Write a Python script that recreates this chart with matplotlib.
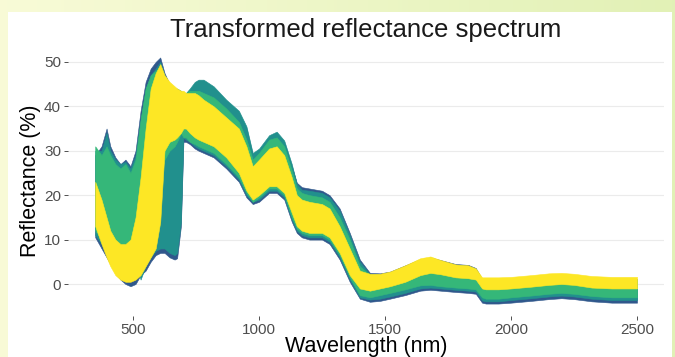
import numpy as np
import matplotlib.pyplot as plt
from matplotlib.patches import Rectangle

plt.rcParams['font.family'] = ['Liberation Sans', 'DejaVu Sans']

# wavelength grid (nm)
wavelength = [350, 375, 395, 410, 430, 450, 470, 490, 510, 530, 550, 570, 590, 608,
              625, 645, 665, 675, 690, 700, 710, 725, 745, 760, 780, 820, 870, 920,
              950, 975, 1000, 1040, 1070, 1100, 1130, 1150, 1170, 1200, 1250, 1280,
              1320, 1360, 1400, 1440, 1480, 1520, 1580, 1640, 1680, 1720, 1780, 1830,
              1860, 1885, 1900, 1950, 2000, 2080, 2150, 2200, 2250, 2320, 2400, 2460,
              2500]

# reflectance envelopes (%) of each group of spectra: lower / upper
blue_lo = [10.5, 8, 6, 4.5, 2.5, 1, 0, -0.5, 0, 2, 3, 5, 6.5, 7,
           7, 6, 5.5, 5.8, 13, 32, 32, 31.5, 30.5, 30, 29.5, 28.5, 26, 23,
           19.5, 18, 18.5, 20.5, 20.5, 19, 14, 11.5, 10.5, 10, 10, 9,
           5.5, 0.5, -3.3, -4, -3.8, -3.3, -2.5, -1.5, -1.3, -1.5, -1.8, -2,
           -2.2, -4.2, -4.4, -4.4, -4.2, -3.8, -3.4, -3.2, -3.4, -3.9, -4.2, -4.2,
           -4.2]
blue_hi = [29, 31, 35, 31, 28.5, 27, 28, 26.5, 30, 39, 45.5, 48.5, 50, 51,
           47.5, 45, 44, 43.8, 43.3, 43, 42.8, 43.5, 45, 45.5, 45.3, 44, 41, 38.5,
           35, 29, 30, 33, 33.8, 31.8, 26.5, 22.8, 21.8, 21.5, 21, 20,
           17, 11.5, 5.5, 2.5, 2.4, 2.8, 4.2, 5.6, 6, 5.4, 4.5, 4.3,
           3.6, 1.1, 0.9, 0.9, 1.1, 1.4, 1.8, 1.9, 1.7, 1.3, 1.1, 1.1,
           1.1]

teal_lo = [11, 9, 7, 6, 5, 4, 4, 4, 5, 1, 4, 6, 7.5, 8,
           8, 7, 6.5, 7, 14, 33, 32.5, 32, 31, 30.5, 30, 29, 26.5, 23.5,
           20, 18.5, 19, 21, 21, 19.5, 14.5, 12, 11, 10.5, 10.5, 9.5,
           6, 1, -3, -3.5, -3.3, -2.8, -2, -1, -0.8, -1, -1.3, -1.5,
           -1.7, -3.7, -3.9, -3.9, -3.6, -3.2, -2.8, -2.6, -2.8, -3.3, -3.6, -3.6,
           -3.6]
teal_hi = [30, 30, 34, 30, 28, 27, 27.5, 26, 29, 37, 44, 47, 48.5, 50,
           47, 45, 44, 44, 43.5, 43, 43, 44, 45.5, 46, 46, 44.5, 41.5, 39,
           35.5, 29.5, 30.5, 33.5, 34.3, 32.3, 27, 22.5, 21.2, 21, 20.5, 19.5,
           16.5, 11, 5, 2.2, 2.2, 2.6, 4, 5.3, 5.8, 5.2, 4.3, 4.1,
           3.4, 1, 0.8, 0.8, 1, 1.3, 1.7, 1.8, 1.6, 1.2, 1, 1,
           1]

green_lo = [12, 10, 8, 7, 7, 7, 7, 7.5, 9, 14, 18, 20, 22, 24,
            28, 30, 31, 32, 34, 33, 33, 32, 31.5, 31, 30.5, 29.5, 27, 24,
            20.5, 18.5, 19.5, 21.5, 21.5, 20, 15, 12.5, 11.5, 11, 11, 10,
            6.5, 1.5, -2.5, -3, -2.5, -2, -1.2, -0.3, -0.2, -0.5, -0.8, -1,
            -1.2, -3, -3.3, -3.3, -3, -2.6, -2.2, -2, -2.2, -2.7, -3, -3,
            -3]
green_hi = [31, 29, 31, 29, 27, 26, 27, 25, 28, 37, 44, 47, 48, 49,
            46, 44, 43, 43, 43, 43, 43, 43.5, 43.5, 43.5, 43, 42, 39.5, 36.5,
            32.5, 28, 29.5, 32.5, 33, 31, 25.5, 21.5, 20.5, 20, 19.5, 18.5,
            15, 10, 4, 2, 2, 2.5, 3.8, 5, 5.5, 5, 4.2, 4,
            3.3, 1, 0.8, 0.8, 1, 1.3, 1.7, 1.8, 1.6, 1.2, 1, 1,
            1]

yellow_lo = [13, 9, 6, 4, 2, 1, 0.5, 0.5, 1, 2, 4, 6, 8, 14,
             30, 32, 32.5, 33, 34, 35, 35, 34, 33, 32.5, 32, 31, 28.5, 25,
             21, 19, 20, 22, 22, 20.5, 16, 13, 12, 11.5, 11.5, 10.5,
             7, 2, -1, -1.5, -1, -0.5, 0.5, 2, 2.5, 2.2, 1.5, 1.3,
             1, -1, -1.2, -1.2, -1, -0.6, -0.2, 0, -0.2, -0.8, -1, -1,
             -1]
yellow_hi = [23, 19, 15, 12, 10, 9, 9, 10, 15, 24, 35, 44, 47.5, 49.5,
             47, 45.5, 44.5, 44, 43.5, 43.5, 43, 43, 43, 42.5, 41.5, 40, 37.5, 35,
             31, 26.5, 28, 30.5, 31, 29, 24, 20, 19, 18.5, 18, 17,
             13, 8, 3, 2.3, 2.3, 2.8, 4.2, 5.8, 6.2, 5.4, 4.4, 4.2,
             3.5, 1.5, 1.5, 1.5, 1.6, 2, 2.4, 2.5, 2.3, 1.8, 1.6, 1.6,
             1.6]

groups = [
    (blue_lo, blue_hi, '#30588c'),
    (teal_lo, teal_hi, '#21908d'),
    (green_lo, green_hi, '#35b779'),
    (yellow_lo, yellow_hi, '#fde725'),
]

fig = plt.figure(figsize=(6.75, 3.57), dpi=100)

# yellow-green frame with white card behind the plot
bg = fig.add_axes([0, 0, 1, 1], zorder=-5)
bg.set_axis_off()
c_left = np.array([0.973, 0.984, 0.843])
c_right = np.array([0.886, 0.945, 0.714])
t = np.linspace(0, 1, 200)[:, None]
grad = (c_left * (1 - t) + c_right * t)[None, :, :]
bg.imshow(grad, aspect='auto', extent=[0, 1, 0, 1])
bg.add_patch(Rectangle((8 / 675, 0), 664 / 675, 345 / 357,
                       facecolor='white', edgecolor='none', transform=bg.transAxes))
bg.set_xlim(0, 1)
bg.set_ylim(0, 1)

ax = fig.add_axes([68 / 675, 41 / 357, 596 / 675, 271 / 357])
ax.set_facecolor('none')

wl = np.array(wavelength)
for lo, hi, col in groups:
    ax.fill_between(wl, lo, hi, facecolor=col, edgecolor=col, lw=0.4)

ax.set_xlim(242, 2607)
ax.set_ylim(-7.2, 53.8)
ax.set_xticks([500, 1000, 1500, 2000, 2500])
ax.set_yticks([0, 10, 20, 30, 40, 50])
ax.yaxis.grid(True, color='#ebebeb', lw=0.8)
ax.xaxis.grid(False)
ax.set_axisbelow(True)
for s in ax.spines.values():
    s.set_visible(False)
ax.tick_params(length=3, width=0.6, color='#333333', labelcolor='#4d4d4d',
               labelsize=11, pad=2)

ax.set_title('Transformed reflectance spectrum', fontsize=18.5, pad=6,
             color='#1a1a1a')
ax.set_xlabel('Wavelength (nm)', fontsize=15.5, labelpad=-1)
ax.set_ylabel('Reflectance (%)', fontsize=15.5, labelpad=2)

fig.savefig('out.png', dpi=100)
